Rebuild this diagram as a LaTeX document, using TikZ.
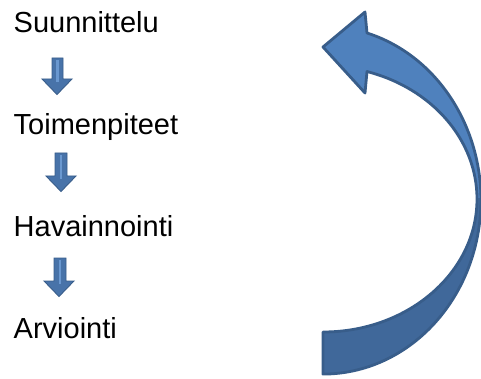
\documentclass[tikz,border=0pt]{standalone}
\usepackage{fontspec}
\setmainfont{Liberation Sans}
\definecolor{lightblue}{HTML}{4F81BD}
\definecolor{darkblue}{HTML}{40689A}
\definecolor{edgeblue}{HTML}{385D8A}
\definecolor{smallfill}{HTML}{4873A9}
\definecolor{stripe}{HTML}{6A98D0}
\tikzset{
  label text/.style={anchor=base west, inner sep=0pt, font=\fontsize{29}{33}\selectfont},
  big outline/.style={draw=edgeblue, line width=2.8pt, line join=round},
  small arrow/.style={fill=smallfill, draw=edgeblue, line width=0.9pt, line join=miter},
}
\newcommand{\downblock}[6]{% shaft left, shaft right, top, head base, head left, head right
  \path[small arrow] (#1,#3) -- (#2,#3) -- (#2,#4) -- (#6,#4) -- ({(#5+#6)/2},{#4+15.5}) -- (#5,#4) -- (#1,#4) -- cycle;
  \fill[stripe] ({(#1+#2)/2-1.3},{#3+2}) rectangle ({(#1+#2)/2+1.3},{#4+3});
}
\begin{document}
\begin{tikzpicture}[x=1pt,y=-1pt]
\useasboundingbox (0,0) rectangle (481,379);
% labels
\node[label text] (s1) at (13.5,33) {Suunnittelu};
\node[label text] (s2) at (13.5,135) {Toimenpiteet};
\node[label text] (s3) at (13.5,236) {Havainnointi};
\node[label text] (s4) at (13.5,338) {Arviointi};
% small block arrows
\downblock{52}{63}{58}{79}{42}{72}
\downblock{55}{67}{153}{176}{46}{76}
\downblock{54}{66}{258}{281}{44}{74}
% big curved arrow
\def\bigpath{(323,47) -- (365,12) -- (367,33)
  arc[start angle=-73.8, end angle=90, x radius=158, y radius=174]
  -- (323,332)
  arc[start angle=90, end angle=-73.4, x radius=154, y radius=133]
  -- (365,93) -- cycle}
\fill[darkblue] \bigpath;
\begin{scope}
  \clip (300,0) rectangle (490,198);
  \fill[lightblue] \bigpath;
\end{scope}
\path[big outline] \bigpath;
\end{tikzpicture}
\end{document}
